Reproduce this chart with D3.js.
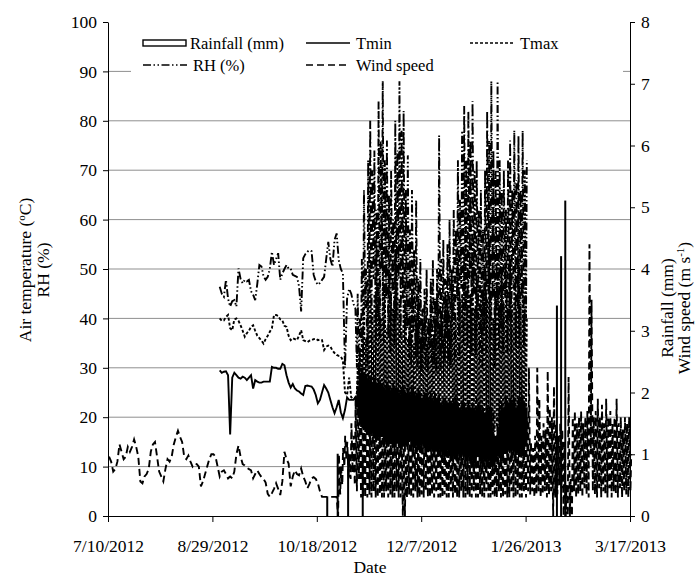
<!DOCTYPE html>
<html>
<head>
<meta charset="utf-8">
<script src="https://cdn.jsdelivr.net/npm/d3@7"></script>
<style>
  body { margin: 0; background: #fff; }
  svg, svg text { font-family: "Liberation Serif", "Times New Roman", "DejaVu Serif", serif; }
</style>
</head>
<body>
<div id="chart"></div>
<script>
// ---- values ----
let dateTicks = ["2012-07-10", "2012-08-29", "2012-10-18", "2012-12-07", "2013-01-26", "2013-03-17"]
let tempTicks = [0, 10, 20, 30, 40, 50, 60, 70, 80, 90, 100]
let windTicks = [0, 1, 2, 3, 4, 5, 6, 7, 8]

// daily wind speed (m/s) from 7/10/2012
let windDailyStart = "2012-07-10"
let windDaily = [
  0.96, 0.88, 0.72, 0.76, 0.88, 1.16, 1.04, 0.92, 0.96, 1.12,
  1.04, 1.12, 1.24, 1.12, 0.96, 0.56, 0.53, 0.64, 0.68, 0.76,
  1.04, 1.16, 1.2, 0.96, 0.72, 0.64, 0.56, 0.76, 0.92, 0.88,
  0.96, 1.16, 1.28, 1.38, 1.28, 1.2, 0.96, 0.92, 0.98, 0.88,
  0.8, 0.85, 0.84, 0.8, 0.48, 0.56, 0.68, 0.8, 0.92, 1.0,
  1.0, 0.96, 0.8, 0.64, 0.72, 0.74, 0.68, 0.61, 0.64, 0.61,
  0.72, 1.0, 1.14, 0.96, 0.84, 0.82, 0.78, 0.76, 0.74, 0.61,
  0.68, 0.74, 0.68, 0.63, 0.6, 0.54, 0.36, 0.31, 0.37, 0.44,
  0.53, 0.44, 0.34, 0.56, 1.04, 0.92, 0.85, 0.48, 0.64, 0.74,
  0.68, 0.66, 0.77, 0.64, 0.56, 0.45, 0.52, 0.61, 0.63, 0.6,
  0.53, 0.4, 0.31, 0.31, 0.31, 0.31, 0.31, 0.31, 0.31, 0.31
]

// sub-daily wind (night low / afternoon high, m/s) from 10/28/2012
let windSubStart = "2012-10-28"
let windLow = [
  0, 0.35, 0.5, 0.8, 0.9, 0.6, 0.6, 0.7, 0.5, 0.4,
  0.6, 0.3, 0.3, 0.3, 0.3, 0.35, 0.3, 0.4, 0.3, 0.3,
  0.35, 0.3, 0.3, 0.4, 0.3, 0.35, 0.3, 0.3, 0.4, 0.3,
  0.3, 0, 0, 0.3, 0.35, 0.3, 0.3, 0.4, 0.3, 0.3,
  0.35, 0.3, 0.4, 0.3, 0.3, 0.35, 0.3, 0.4, 0.3, 0.3,
  0.3, 0.35, 0.3, 0.3, 0.4, 0.3, 0.35, 0.3, 0.3, 0.4,
  0.3, 0.3, 0.35, 0.3, 0.3, 0.4, 0.3, 0.3, 0.35, 0.3,
  0.3, 0.4, 0.3, 0.3, 0.35, 0.3, 0.3, 0.4, 0.3, 0.3,
  0.35, 0.3, 0.3, 0.4, 0.3, 0.3, 0.35, 0.3, 0.3, 0.4,
  0.3, 0.4, 0.35, 0.4, 0.3, 0.35, 0.4, 0.3, 0.35, 0.4,
  0.3, 0.35, 0.4, 0, 0.3, 0.35, 0.5, 0.45, 0, 0,
  0, 0, 0, 0.4, 0.3, 0.35, 0.4, 0.3, 0.45, 0.35,
  0.3, 1.0, 0.4, 0.35, 0.3, 0.45, 0.3, 0.4, 0.35, 0.3,
  0.45, 0.3, 0.4, 0.35, 0.3, 0.45, 0.3, 0.4, 0.35, 0.3, 0.4
]
let windHigh = [
  1.0, 0.8, 1.1, 1.3, 1.2, 1.0, 1.5, 1.3, 1.9, 2.2,
  1.8, 2.4, 1.9, 2.3, 1.9, 1.7, 2.0, 1.6, 1.8, 2.1,
  1.7, 1.9, 1.5, 1.8, 2.0, 1.6, 1.7, 1.9, 1.5, 1.8,
  1.6, 1.2, 1.0, 1.7, 1.9, 1.5, 1.8, 1.6, 1.4, 1.7,
  1.5, 1.8, 1.6, 1.9, 1.4, 1.7, 1.5, 1.6, 2.0, 1.5,
  1.7, 1.4, 1.8, 1.6, 1.5, 1.9, 1.4, 1.7, 1.6, 1.5,
  1.8, 1.5, 1.6, 1.4, 1.7, 1.5, 1.9, 1.6, 1.4, 1.7,
  1.5, 1.6, 1.8, 1.4, 1.7, 1.3, 1.6, 1.9, 1.5, 1.7,
  1.6, 1.4, 1.8, 1.5, 1.7, 1.6, 1.4, 1.9, 1.5, 1.7,
  1.6, 2.4, 1.2, 1.1, 1.3, 2.4, 1.9, 1.3, 1.5, 1.4,
  2.35, 1.75, 1.6, 2.1, 1.5, 1.3, 1.5, 1.4, 1.2, 0.5,
  2.25, 0.6, 1.6, 1.7, 1.5, 1.6, 1.7, 1.5, 1.6, 1.7,
  4.4, 3.5, 1.6, 1.7, 1.9, 1.6, 1.8, 1.5, 1.9, 1.6,
  1.7, 1.5, 1.6, 1.9, 1.5, 1.6, 1.4, 1.6, 1.5, 1.6, 1.0
]

// daily Tmin, Tmax (ºC) and RH (%) from 9/1/2012
let tempDailyStart = "2012-09-01"
let tminDaily = [
  29.5, 29, 29.2, 29.3, 28.5, 16.5, 28, 29, 28.5, 28,
  27.8, 28.2, 28, 27.5, 28, 28.5, 25.8, 27.5, 27.2, 27,
  27, 27.2, 27.2, 27.2, 27.2, 30.2, 30, 30, 29.8, 29.8,
  30.8, 30.5, 28.5, 27, 26, 26.7, 25.8, 25.4, 25.2, 24.8,
  24.5, 26.3, 26.4, 26.3, 26.2, 25.6, 24.5, 22.8, 23.5, 25,
  26.5, 25.8, 25, 23.5, 22, 20.8, 22, 23.5, 21, 19.8,
  21.5, 24, 23.5, 23.5, 23.5, 24
]
let tmaxDaily = [
  40, 39.5, 39.6, 40.3, 40.7, 38, 37.6, 39.8, 40, 39.5,
  38.6, 37.5, 36.3, 37, 37.5, 38.3, 38.6, 37.5, 36.5, 36,
  35.5, 34.9, 35.8, 36.5, 37.3, 38, 40.7, 40.7, 40.5, 39.8,
  39.6, 38.5, 38.3, 36.5, 35.6, 36, 35.8, 35.6, 36.5, 37.6,
  35.6, 35.4, 35.2, 35.5, 35.6, 35.8, 35.9, 35.6, 35.7, 35.6,
  33.6, 34.3, 34.5, 34.3, 33.5, 33, 32.6, 32.4, 32.3, 31.5,
  25, 24.5, 28, 24, 23.8, 24
]
let rhDaily = [
  46.4, 45, 44.4, 47.8, 44, 42.4, 43.5, 43.7, 42.4, 50.1,
  48, 47.1, 47.8, 47.5, 47.8, 45.5, 44.8, 43.7, 47, 50.8,
  50.5, 48.5, 47.8, 48.4, 50, 53.5, 50.8, 52, 53.2, 47.8,
  49.1, 50, 50.8, 50.1, 50.1, 48.8, 48.6, 48.4, 46.5, 41.4,
  52.2, 53, 53.5, 53.8, 53.6, 48.8, 47.5, 46.8, 47.2, 47.8,
  48.4, 52, 55.5, 52, 50.5, 55.9, 57.2, 51.8, 50, 49.1,
  30, 44, 46, 45, 43, 42
]

// sub-daily temperature and RH (low / high of each day) from 11/6/2012
let tempSubStart = "2012-11-06"
let tminLow = [
  22, 20, 18, 18, 17, 17, 16, 17, 16, 15, 16, 15, 16, 14, 15, 14, 15, 14, 13, 15,
  14, 13, 14, 13, 14, 15, 14, 13, 14, 13, 14, 13, 14, 12, 13, 14, 13, 12, 13, 12,
  13, 12, 11, 12, 13, 12, 11, 12, 11, 12, 11, 12, 10, 11, 12, 11, 10, 11, 12, 11,
  10, 11, 10, 11, 10, 9, 10, 11, 12, 11, 12, 13, 12, 13, 12, 13, 12, 13, 12, 13,
  12, 14
]
let tminHigh = [
  26, 29, 30, 29, 28, 29, 28, 27, 28, 27, 28, 27, 27, 26, 27, 26, 26, 27, 26, 26,
  25, 26, 26, 25, 26, 25, 26, 25, 25, 26, 25, 24, 25, 25, 24, 25, 24, 25, 24, 24,
  23, 24, 24, 23, 24, 23, 23, 24, 23, 22, 23, 23, 22, 23, 22, 23, 22, 22, 23, 22,
  22, 21, 22, 21, 22, 17, 16, 18, 21, 23, 22, 24, 23, 24, 23, 24, 22, 24, 23, 24,
  23, 22
]
let tmaxLow = [
  25, 24, 23, 24, 22, 23, 22, 24, 23, 22, 23, 22, 24, 21, 23, 22, 21, 23, 22, 21,
  22, 21, 23, 22, 21, 22, 20, 21, 22, 21, 20, 22, 21, 20, 21, 22, 20, 21, 20, 21,
  20, 19, 21, 20, 19, 20, 21, 19, 20, 19, 20, 19, 18, 20, 19, 18, 20, 19, 18, 19,
  18, 19, 18, 19, 18, 16, 17, 18, 19, 20, 19, 20, 21, 20, 19, 21, 20, 19, 21, 20,
  19, 22
]
let tmaxHigh = [
  30, 34, 38, 44, 36, 46, 52, 42, 45, 55, 47, 40, 52, 46, 38, 50, 45, 42, 54, 48,
  44, 38, 48, 43, 36, 40, 46, 35, 40, 44, 36, 38, 42, 35, 39, 44, 36, 40, 45, 39,
  41, 36, 44, 43, 38, 48, 45, 40, 52, 44, 45, 54, 44, 50, 45, 56, 42, 48, 41, 46,
  45, 50, 44, 55, 45, 40, 44, 52, 42, 48, 43, 50, 42, 52, 43, 48, 42, 52, 43, 48,
  42, 40
]
let rhLow = [
  30, 28, 36, 32, 42, 30, 45, 34, 48, 33, 40, 36, 50, 35, 44, 36, 33, 45, 34, 40,
  48, 36, 44, 35, 38, 32, 30, 37, 32, 30, 35, 29, 33, 30, 29, 34, 31, 30, 29, 38,
  30, 34, 31, 36, 31, 30, 40, 31, 44, 32, 46, 35, 42, 34, 48, 33, 45, 32, 40, 31,
  30, 38, 33, 45, 35, 44, 30, 42, 34, 38, 33, 44, 33, 40, 33, 46, 34, 42, 34, 44,
  34, 40
]
let rhHigh = [
  45, 40, 52, 66, 50, 72, 80, 70, 74, 62, 84, 76, 88, 72, 76, 65, 70, 60, 80, 74,
  88, 78, 82, 66, 73, 58, 66, 54, 64, 48, 52, 42, 46, 50, 40, 48, 52, 44, 50, 77,
  52, 56, 48, 55, 60, 50, 62, 58, 72, 64, 78, 83, 72, 82, 76, 84, 70, 72, 62, 66,
  58, 70, 82, 76, 88, 74, 70, 88, 72, 66, 70, 62, 72, 76, 66, 78, 68, 77, 66, 78,
  70, 72
]

// rainfall events (mm)
let rainDates = ["2012-10-23", "2012-10-28", "2012-11-02", "2012-11-09", "2013-02-10", "2013-02-12", "2013-02-14"]
let rainMm = [0.31, 1.0, 1.0, 0.95, 3.4, 4.2, 5.1]

// ---- build point lists ----
let parse = d3.utcParse("%Y-%m-%d")

let dailyPoints = (start, values) => values.map((v, i) => ({
  date: d3.utcHour.offset(d3.utcDay.offset(parse(start), i), 12),
  value: v
}))

let subPoints = (start, lows, highs) => lows.flatMap((lo, i) => {
  let day = d3.utcDay.offset(parse(start), i)
  return [
    { date: d3.utcHour.offset(day, 5), value: lo },
    { date: d3.utcHour.offset(day, 14), value: highs[i] }
  ]
})

let windPts = dailyPoints(windDailyStart, windDaily).concat(subPoints(windSubStart, windLow, windHigh))
let tminPts = dailyPoints(tempDailyStart, tminDaily).concat(subPoints(tempSubStart, tminLow, tminHigh))
let tmaxPts = dailyPoints(tempDailyStart, tmaxDaily).concat(subPoints(tempSubStart, tmaxLow, tmaxHigh))
let rhPts = dailyPoints(tempDailyStart, rhDaily).concat(subPoints(tempSubStart, rhLow, rhHigh))
let rain = rainDates.map((d, i) => ({ date: parse(d), value: rainMm[i] }))

// ---- chart ----
let width = 697
let height = 579
let margin = { top: 22, right: 67, bottom: 63, left: 108 }
let serif = '"Liberation Serif", "Times New Roman", "DejaVu Serif", serif'

let x = d3.scaleUtc()
    .domain([parse(dateTicks[0]), parse(dateTicks[dateTicks.length - 1])])
    .range([margin.left, width - margin.right])
let yL = d3.scaleLinear().domain([0, 100]).range([height - margin.bottom, margin.top])
let yR = d3.scaleLinear().domain([0, 8]).range([height - margin.bottom, margin.top])

let svg = d3.select('#chart')
    .append('svg')
    .attr('width', width)
    .attr('height', height)
    .attr('font-family', serif)

// gridlines
svg.append('g')
    .selectAll('line')
    .data(tempTicks.filter(t => t > 0 && t < 100))
    .join('line')
    .attr('x1', margin.left)
    .attr('x2', width - margin.right)
    .attr('y1', d => yL(d))
    .attr('y2', d => yL(d))
    .attr('stroke', '#8f8f8f')
    .attr('stroke-width', 1)

// rainfall columns
svg.append('g')
    .selectAll('rect')
    .data(rain)
    .join('rect')
    .attr('x', d => x(d.date) - 0.5)
    .attr('width', 1)
    .attr('y', d => yR(d.value))
    .attr('height', d => yR(0) - yR(d.value))
    .attr('fill', '#fff')
    .attr('stroke', '#000')
    .attr('stroke-width', 1)

let lineL = d3.line().x(d => x(d.date)).y(d => yL(d.value))
let lineR = d3.line().x(d => x(d.date)).y(d => yR(d.value))

let styles = {
  tmin: null,
  tmax: "3,2",
  rh: "8,2.5,1.5,2.5,1.5,2.5",
  wind: "7,4"
}

let drawLine = (pts, gen, dash) => {
  svg.append('path')
      .datum(pts)
      .attr('d', gen)
      .attr('fill', 'none')
      .attr('stroke', '#000')
      .attr('stroke-width', 1.9)
      .attr('stroke-dasharray', dash)
}

drawLine(windPts, lineR, styles.wind)
drawLine(rhPts, lineL, styles.rh)
drawLine(tmaxPts, lineL, styles.tmax)
drawLine(tminPts, lineL, styles.tmin)

// axes
let fontSize = '17.5px'

let styleAxis = (g) => {
  g.attr('font-family', serif).attr('font-size', fontSize)
  g.selectAll('text').attr('fill', '#000')
  g.selectAll('line').attr('stroke', '#000')
  g.select('.domain').attr('stroke', '#000')
}

svg.append('g')
    .attr('transform', `translate(${margin.left},0)`)
    .call(d3.axisLeft(yL).tickValues(tempTicks).tickSize(5).tickPadding(6).tickSizeOuter(0))
    .call(styleAxis)

svg.append('g')
    .attr('transform', `translate(${width - margin.right},0)`)
    .call(d3.axisRight(yR).tickValues(windTicks).tickSize(5).tickPadding(6).tickSizeOuter(0))
    .call(styleAxis)

svg.append('g')
    .attr('transform', `translate(0,${height - margin.bottom})`)
    .call(d3.axisBottom(x)
        .tickValues(dateTicks.map(parse))
        .tickFormat(d3.utcFormat("%-m/%-d/%Y"))
        .tickSize(6).tickPadding(18).tickSizeOuter(0))
    .call(styleAxis)

// axis titles
svg.append('text')
    .attr('x', 370)
    .attr('y', 573)
    .attr('text-anchor', 'middle')
    .attr('font-size', fontSize)
    .text('Date')

let leftTitle = svg.append('g').attr('font-size', fontSize).attr('text-anchor', 'middle')
let t1 = leftTitle.append('text')
    .attr('transform', 'translate(31,270) rotate(-90)')
t1.append('tspan').text('Air temperature (')
t1.append('tspan').attr('font-size', '11px').attr('dy', -6).text('o')
t1.append('tspan').attr('dy', 6).text('C)')
leftTitle.append('text')
    .attr('transform', 'translate(49,270) rotate(-90)')
    .text('RH (%)')

let rightTitle = svg.append('g').attr('font-size', fontSize).attr('text-anchor', 'middle')
rightTitle.append('text')
    .attr('transform', 'translate(673,308) rotate(-90)')
    .text('Rainfall (mm)')
let t2 = rightTitle.append('text')
    .attr('transform', 'translate(690,308) rotate(-90)')
t2.append('tspan').text('Wind speed (m s')
t2.append('tspan').attr('font-size', '11px').attr('dy', -6).text('-1')
t2.append('tspan').attr('dy', 6).text(')')

// legend
let legend = svg.append('g').attr('font-size', '16.5px')
legend.append('rect')
    .attr('x', 131).attr('y', 29)
    .attr('width', 492).attr('height', 46)
    .attr('fill', '#fff')

let legendItems = [
  { name: 'Rainfall (mm)', kind: 'rect', dash: null, x: 143, row: 0 },
  { name: 'Tmin', kind: 'line', dash: styles.tmin, x: 306, row: 0 },
  { name: 'Tmax', kind: 'line', dash: styles.tmax, x: 470, row: 0 },
  { name: 'RH (%)', kind: 'line', dash: styles.rh, x: 143, row: 1 },
  { name: 'Wind speed', kind: 'line', dash: styles.wind, x: 306, row: 1 }
]

let item = legend.selectAll('.item')
    .data(legendItems)
    .join('g')
    .attr('class', 'item')
    .attr('transform', d => `translate(${d.x},${43 + d.row * 22})`)

item.filter(d => d.kind === 'rect').append('rect')
    .attr('x', 0).attr('y', -3)
    .attr('width', 43).attr('height', 6)
    .attr('fill', '#fff')
    .attr('stroke', '#000')
    .attr('stroke-width', 1.4)

item.filter(d => d.kind === 'line').append('line')
    .attr('x1', 0).attr('x2', 44)
    .attr('stroke', '#000')
    .attr('stroke-width', 1.6)
    .attr('stroke-dasharray', d => d.dash)

item.append('text')
    .attr('x', d => d.kind === 'rect' ? 47 : 50)
    .attr('y', 5.5)
    .text(d => d.name)
</script>
</body>
</html>
